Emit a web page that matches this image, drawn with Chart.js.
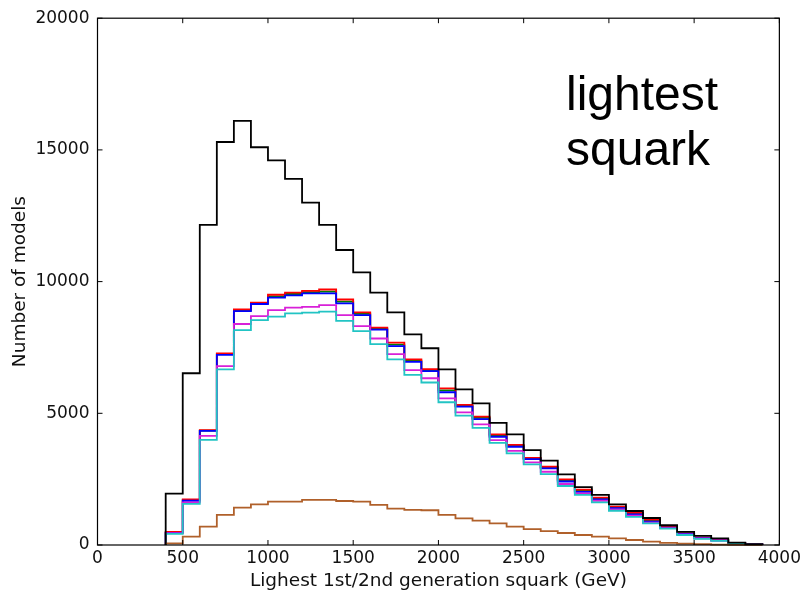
<!DOCTYPE html>
<html>
<head>
<meta charset="utf-8">
<script src="https://cdn.jsdelivr.net/npm/chart.js@4.4.1/dist/chart.umd.min.js"></script>
<style>
  html, body { margin: 0; padding: 0; background: #fff; }
  #wrap { width: 804px; height: 591px; position: relative; }
</style>
</head>
<body>
<div id="wrap"><canvas id="c" width="804" height="591"></canvas></div>
<script>
// ---- data ----
const binEdges = [400,500,600,700,800,900,1000,1100,1200,1300,1400,1500,1600,1700,1800,1900,2000,
                  2100,2200,2300,2400,2500,2600,2700,2800,2900,3000,3100,3200,3300,3400,3500,3600,3700,3800,3900];

const allModels = [1950,6520,12150,15300,16100,15100,14600,13900,13000,12150,11200,10350,9580,8830,8000,7470,6670,
                   5910,5380,4640,4200,3600,3200,2680,2200,1900,1545,1290,1025,750,495,345,255,90,30];
const redSeries = [500,1730,4360,7270,8940,9200,9500,9580,9650,9700,9320,8830,8250,7680,7050,6680,5950,
                   5320,4870,4200,3800,3310,2970,2490,2100,1800,1460,1220,960,700,440,280,190,70,25];
const greenSeries = [480,1700,4345,7245,8910,9175,9440,9530,9600,9620,9240,8780,8210,7610,7000,6640,5870,
                     5285,4825,4155,3765,3285,2940,2450,2060,1765,1430,1190,925,680,430,270,182,68,24];
const blueSeries = [460,1680,4330,7220,8880,9150,9390,9475,9550,9550,9170,8730,8180,7550,6950,6600,5800,
                    5250,4780,4110,3730,3260,2910,2410,2020,1730,1400,1160,890,660,420,260,175,65,22];
const magentaSeries = [450,1620,4140,6790,8390,8690,8920,9010,9040,9110,8730,8310,7840,7250,6640,6330,5570,
                       5035,4580,3985,3570,3140,2780,2315,1960,1680,1350,1110,850,640,400,250,170,60,20];
const cyanSeries = [420,1560,3990,6670,8160,8540,8670,8790,8820,8860,8510,8120,7630,7050,6460,6170,5420,
                    4910,4450,3880,3480,3060,2690,2240,1900,1620,1300,1070,820,620,380,230,160,55,18];
const brownSeries = [65,315,695,1140,1420,1545,1645,1650,1710,1710,1670,1645,1520,1380,1330,1320,1140,
                     1010,925,820,695,605,530,455,380,315,255,190,125,80,50,30,15,8,3];

const xTicks = [0,500,1000,1500,2000,2500,3000,3500,4000];
const yTicks = [0,5000,10000,15000,20000];
const xTitle = 'Lighest 1st/2nd generation squark (GeV)';
const yTitle = 'Number of models';
const annotationLines = ['lightest', 'squark'];

// ---- build step-histogram outlines ----
function stepPoints(values) {
  const pts = [{x: binEdges[0], y: 0}];
  values.forEach((v, i) => pts.push({x: binEdges[i], y: v}));
  pts.push({x: binEdges[binEdges.length - 1], y: 0});
  return pts;
}
function ds(values, color) {
  return {
    data: stepPoints(values),
    borderColor: color,
    borderWidth: 1.8,
    pointRadius: 0,
    stepped: 'before',
    fill: false,
    clip: false,
    tension: 0
  };
}

const frameAndTicks = {
  id: 'frameAndTicks',
  afterDatasetsDraw(chart) {
    const {ctx, chartArea: a, scales: {x, y}} = chart;
    ctx.save();
    ctx.strokeStyle = '#000';
    ctx.lineWidth = 1.2;
    ctx.strokeRect(a.left, a.top, a.right - a.left, a.bottom - a.top);
    const L = 5;
    ctx.lineWidth = 1;
    ctx.beginPath();
    xTicks.forEach(v => {
      const px = x.getPixelForValue(v);
      ctx.moveTo(px, a.bottom); ctx.lineTo(px, a.bottom - L);
      ctx.moveTo(px, a.top); ctx.lineTo(px, a.top + L);
    });
    yTicks.forEach(v => {
      const py = y.getPixelForValue(v);
      ctx.moveTo(a.left, py); ctx.lineTo(a.left + L, py);
      ctx.moveTo(a.right, py); ctx.lineTo(a.right - L, py);
    });
    ctx.stroke();
    ctx.fillStyle = '#000';
    ctx.font = '48px "Liberation Sans", Arial, sans-serif';
    ctx.textAlign = 'left';
    ctx.textBaseline = 'alphabetic';
    ctx.fillText(annotationLines[0], 566, 110);
    ctx.fillText(annotationLines[1], 566, 165);
    ctx.restore();
  }
};

const tickFont = {family: '"DejaVu Sans", sans-serif', size: 17};
const titleFont = {family: '"DejaVu Sans", sans-serif', size: 18.5, lineHeight: 1.0};

new Chart(document.getElementById('c'), {
  type: 'line',
  data: {
    datasets: [
      ds(allModels, '#000000'),
      ds(brownSeries, '#b0602a'),
      ds(cyanSeries, '#22c4c4'),
      ds(magentaSeries, '#d820d8'),
      ds(blueSeries, '#0000ff'),
      ds(redSeries, '#ff0000'),
      ds(greenSeries, '#008000')
    ]
  },
  options: {
    responsive: false,
    animation: false,
    events: [],
    layout: {padding: {left: 0, top: 18, right: 24, bottom: 0}},
    plugins: {legend: {display: false}, tooltip: {enabled: false}},
    scales: {
      x: {
        type: 'linear',
        min: 0, max: 4000,
        grid: {display: false, drawTicks: false},
        border: {display: false},
        afterBuildTicks: s => { s.ticks = xTicks.map(v => ({value: v})); },
        afterFit: s => { s.height = 46; },
        ticks: {font: tickFont, color: '#111', padding: 3, maxRotation: 0, autoSkip: false,
                callback: v => String(v)},
        title: {display: true, text: xTitle, font: titleFont, color: '#111', padding: {top: 0, bottom: 1}}
      },
      y: {
        type: 'linear',
        min: 0, max: 20000,
        grid: {display: false, drawTicks: false},
        border: {display: false},
        afterBuildTicks: s => { s.ticks = yTicks.map(v => ({value: v})); },
        afterFit: s => { s.width = 97.5; },
        ticks: {font: tickFont, color: '#111', padding: 8, autoSkip: false,
                callback: v => String(v)},
        title: {display: true, text: yTitle, font: titleFont, color: '#111', padding: {top: 11, bottom: 0}}
      }
    }
  },
  plugins: [frameAndTicks]
});
</script>
</body>
</html>
